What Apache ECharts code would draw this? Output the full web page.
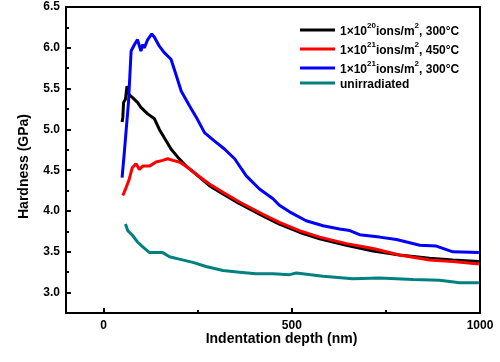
<!DOCTYPE html>
<html><head><meta charset="utf-8">
<script src="https://cdn.jsdelivr.net/npm/echarts@6/dist/echarts.min.js"></script>
<style>html,body{margin:0;padding:0;background:#fff}#c{width:500px;height:362px}</style>
</head><body><div id="c"></div>
<script>
// Data
var seriesNames = ['1e20_300', '1e21_450', '1e21_300', 'unirradiated'];
var xRange = [-100, 1000];
var yRange = [2.75, 6.5];
var xTickStep = 500;
var yTickStep = 0.5;
var yFirstTick = 3.0;

var blackX = [49, 51, 53, 58, 62, 67, 77, 90, 99, 117, 135, 148, 166, 179, 197, 219, 246, 281, 317, 361, 423, 467, 520, 574, 645, 716, 786, 866, 928, 997];
var blackY = [5.09, 5.15, 5.33, 5.37, 5.53, 5.43, 5.39, 5.33, 5.27, 5.19, 5.13, 5.00, 4.86, 4.76, 4.66, 4.55, 4.45, 4.31, 4.21, 4.09, 3.94, 3.84, 3.74, 3.66, 3.58, 3.51, 3.46, 3.42, 3.40, 3.38];

var redX = [51, 60, 68, 76, 86, 95, 104, 122, 139, 157, 170, 184, 201, 219, 246, 281, 317, 361, 423, 467, 520, 574, 645, 716, 786, 866, 928, 997];
var redY = [4.19, 4.29, 4.39, 4.53, 4.58, 4.51, 4.55, 4.55, 4.60, 4.62, 4.64, 4.62, 4.60, 4.55, 4.45, 4.33, 4.23, 4.11, 3.96, 3.86, 3.76, 3.68, 3.60, 3.54, 3.46, 3.40, 3.38, 3.35];

var blueX = [49, 55, 66, 73, 82, 90, 99, 104, 108, 117, 128, 135, 148, 161, 179, 193, 206, 228, 246, 268, 294, 321, 348, 379, 414, 450, 467, 494, 538, 583, 627, 654, 680, 733, 778, 840, 884, 928, 997];
var blueY = [4.41, 4.72, 5.33, 5.96, 6.04, 6.10, 5.96, 6.04, 6.00, 6.10, 6.17, 6.13, 6.02, 5.94, 5.86, 5.66, 5.47, 5.29, 5.15, 4.96, 4.86, 4.76, 4.64, 4.43, 4.27, 4.15, 4.07, 3.99, 3.88, 3.82, 3.78, 3.76, 3.71, 3.68, 3.65, 3.58, 3.57, 3.50, 3.49];

var tealX = [58, 64, 77, 90, 104, 122, 139, 157, 175, 201, 237, 272, 317, 361, 405, 450, 494, 512, 583, 662, 733, 822, 893, 946, 997];
var tealY = [3.84, 3.76, 3.70, 3.62, 3.56, 3.49, 3.49, 3.49, 3.44, 3.41, 3.37, 3.32, 3.27, 3.25, 3.23, 3.23, 3.22, 3.24, 3.20, 3.17, 3.18, 3.16, 3.15, 3.12, 3.12];

function zip(xs, ys) { return xs.map(function (x, i) { return [x, ys[i]]; }); }

var FONT = '"Liberation Sans", Arial, sans-serif';
var legendRich = {
  a: { fontFamily: FONT, fontWeight: 'bold', fontSize: 12, color: '#000', lineHeight: 16, verticalAlign: 'bottom' },
  s: { fontFamily: FONT, fontWeight: 'bold', fontSize: 8, color: '#000', lineHeight: 16, verticalAlign: 'top', padding: [0, 0, 6, 0] }
};
var legendText = {
  '1e20_300': '{a|1×10}{s|20}{a|ions/m}{s|2}{a|, 300°C}',
  '1e21_450': '{a|1×10}{s|21}{a|ions/m}{s|2}{a|, 450°C}',
  '1e21_300': '{a|1×10}{s|21}{a|ions/m}{s|2}{a|, 300°C}',
  'unirradiated': '{a|unirradiated}'
};

var colors = ['#000000', '#ff0000', '#0000ff', '#008080'];
var datas = [zip(blackX, blackY), zip(redX, redY), zip(blueX, blueY), zip(tealX, tealY)];

function labelStyle(extra) {
  return Object.assign({ fontFamily: FONT, fontWeight: 'bold', fontSize: 12, color: '#000' }, extra);
}
function nameStyle(extra) {
  return Object.assign({ fontFamily: FONT, fontWeight: 'bold', fontSize: 14, color: '#000' }, extra);
}

// geometry of the main plot area
var G = { left: 66, right: 20, top: 7, bottom: 49 };
var W = 500 - G.left - G.right, H = 362 - G.top - G.bottom;
var xTickLeft = G.left + (0 - xRange[0]) / (xRange[1] - xRange[0]) * W;
var yTickBottom = G.bottom + (yFirstTick - yRange[0]) / (yRange[1] - yRange[0]) * H;
var MAJOR = 5, MINOR = 3;

// Tick strips: thin grids along the bottom / left edges whose split lines act as inward ticks
var grids = [
  { left: G.left, right: G.right, top: G.top, bottom: G.bottom, show: true, borderColor: '#000', borderWidth: 2 },
  { left: xTickLeft, right: G.right, bottom: G.bottom, height: MAJOR },            // 1: x major ticks + labels
  { left: xTickLeft, right: G.right, bottom: G.bottom, height: MINOR },            // 2: x minor ticks
  { left: G.left, width: MAJOR, top: G.top, bottom: yTickBottom },                 // 3: y major ticks + labels
  { left: G.left, width: MINOR, top: G.top, bottom: yTickBottom }                  // 4: y minor ticks
];

var tickLine = { show: true, lineStyle: { color: '#000', width: 2, type: 'solid' } };
var off = { show: false };

function stripX(gi, major, withLabels) {
  return {
    type: 'value', gridIndex: gi, min: 0, max: xRange[1], interval: xTickStep,
    axisLine: { show: false, onZero: false }, axisTick: { show: false },
    minorTick: { show: false, splitNumber: 2 },
    splitLine: major ? tickLine : { show: false },
    minorSplitLine: major ? { show: false } : tickLine,
    axisLabel: withLabels ? labelStyle({ show: true, margin: 7, formatter: function (v) { return String(v); } }) : { show: false }
  };
}
function stripY(gi, major, withLabels) {
  return {
    type: 'value', gridIndex: gi, min: yFirstTick, max: yRange[1], interval: yTickStep,
    axisLine: { show: false, onZero: false }, axisTick: { show: false },
    minorTick: { show: false, splitNumber: 2 },
    splitLine: major ? tickLine : { show: false },
    minorSplitLine: major ? { show: false } : tickLine,
    axisLabel: withLabels ? labelStyle({ show: true, margin: 6, formatter: function (v) { return v.toFixed(1); } }) : { show: false }
  };
}
function dummyX(gi) { return { type: 'value', gridIndex: gi, min: 0, max: 1, show: false }; }
function dummyY(gi) { return { type: 'value', gridIndex: gi, min: 0, max: 1, show: false }; }

var chart = echarts.init(document.getElementById('c'));
chart.setOption({
  animation: false,
  grid: grids,
  legend: {
    orient: 'vertical', left: 300, top: 22, padding: 0,
    itemWidth: 35, itemHeight: 3, itemGap: 3, icon: 'rect',
    data: seriesNames,
    formatter: function (n) { return legendText[n]; },
    textStyle: { rich: legendRich }
  },
  xAxis: [{
    type: 'value', gridIndex: 0, min: xRange[0], max: xRange[1],
    name: 'Indentation depth (nm)', nameLocation: 'middle', nameGap: 19,
    nameTextStyle: nameStyle({ padding: [0, 0, 0, 17] }),
    axisLine: { show: true, onZero: false, lineStyle: { color: '#000', width: 2 } },
    axisTick: off, axisLabel: off, splitLine: off
  }, stripX(1, true, true), stripX(2, false, false), dummyX(3), dummyX(4)],
  yAxis: [{
    type: 'value', gridIndex: 0, min: yRange[0], max: yRange[1],
    name: 'Hardness (GPa)', nameLocation: 'middle', nameGap: 35, nameRotate: 90,
    nameTextStyle: nameStyle({ padding: [0, 13, 0, 0] }),
    axisLine: { show: true, onZero: false, lineStyle: { color: '#000', width: 2 } },
    axisTick: off, axisLabel: off, splitLine: off
  }, dummyY(1), dummyY(2), stripY(3, true, true), stripY(4, false, false)],
  series: seriesNames.map(function (n, i) {
    return {
      name: n, type: 'line', xAxisIndex: 0, yAxisIndex: 0, data: datas[i],
      showSymbol: false, symbol: 'none',
      itemStyle: { color: colors[i] },
      lineStyle: { color: colors[i], width: 3 }
    };
  })
});
</script></body></html>
